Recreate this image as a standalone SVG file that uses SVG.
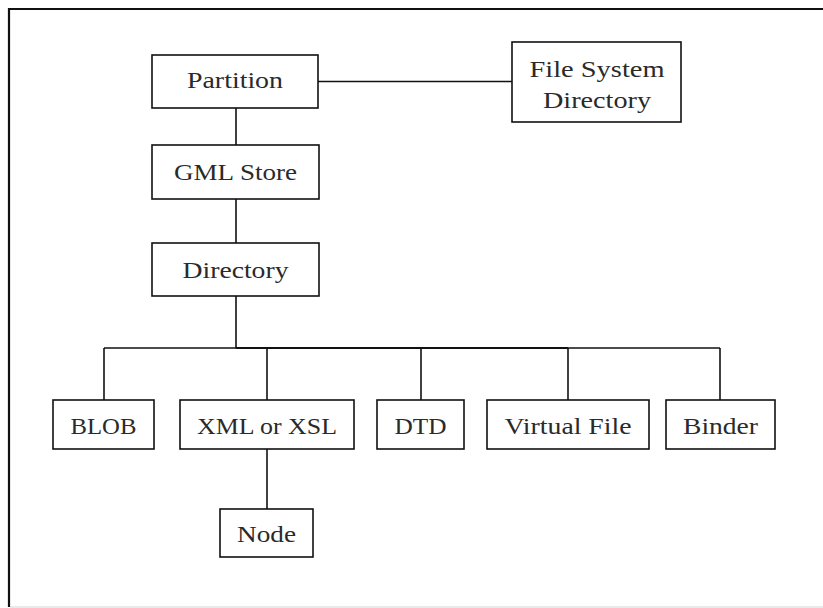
<svg xmlns="http://www.w3.org/2000/svg" width="823" height="608" viewBox="0 0 823 608">
<style>
.box{fill:#fff;stroke:#111;stroke-width:1.6}
.lbl{font-family:"Liberation Serif","DejaVu Serif",serif;font-size:23.5px;fill:#2a2a2a;text-anchor:middle}
.con{stroke:#111;stroke-width:1.6;fill:none}
</style>
<rect x="0" y="0" width="823" height="608" fill="#fff"/>
<g id="frame">
<path d="M9,607 V9 H823" fill="none" stroke="#111" stroke-width="2.2"/>
<line x1="10" y1="607" x2="823" y2="607" stroke="#d4d4d4" stroke-width="1.2"/>
</g>
<g id="connectors">
<line class="con" x1="318" y1="81.5" x2="512" y2="81.5"/>
<line class="con" x1="236" y1="108" x2="236" y2="145"/>
<line class="con" x1="236" y1="199" x2="236" y2="243"/>
<line class="con" x1="236" y1="296" x2="236" y2="348"/>
<line class="con" x1="104" y1="348" x2="720" y2="348"/>
<line x1="236" y1="348" x2="568" y2="348" stroke="#111" stroke-width="2.2"/>
<line class="con" x1="104" y1="348" x2="104" y2="400"/>
<line class="con" x1="267" y1="348" x2="267" y2="400"/>
<line class="con" x1="421" y1="348" x2="421" y2="400"/>
<line class="con" x1="568" y1="348" x2="568" y2="400"/>
<line class="con" x1="720" y1="348" x2="720" y2="400"/>
<line class="con" x1="267" y1="449" x2="267" y2="509"/>
</g>
<g id="partition">
<rect class="box" x="152" y="55" width="166" height="53"/>
<text class="lbl" x="235" y="87.5" textLength="96" lengthAdjust="spacingAndGlyphs">Partition</text>
</g>
<g id="fsd">
<rect class="box" x="512" y="42" width="169" height="80"/>
<text class="lbl" x="597" y="76.5" textLength="135" lengthAdjust="spacingAndGlyphs">File System</text>
<text class="lbl" x="597" y="107.5" textLength="108" lengthAdjust="spacingAndGlyphs">Directory</text>
</g>
<g id="gml">
<rect class="box" x="152" y="145" width="167" height="54"/>
<text class="lbl" x="235.5" y="179.5" textLength="123" lengthAdjust="spacingAndGlyphs">GML Store</text>
</g>
<g id="directory">
<rect class="box" x="152" y="243" width="167" height="53"/>
<text class="lbl" x="235.5" y="277.5" textLength="106" lengthAdjust="spacingAndGlyphs">Directory</text>
</g>
<g id="blob">
<rect class="box" x="53" y="400" width="101" height="49"/>
<text class="lbl" x="103.5" y="433.5" textLength="66" lengthAdjust="spacingAndGlyphs">BLOB</text>
</g>
<g id="xml">
<rect class="box" x="180" y="400" width="174" height="49"/>
<text class="lbl" x="267" y="433.5" textLength="140" lengthAdjust="spacingAndGlyphs">XML or XSL</text>
</g>
<g id="dtd">
<rect class="box" x="377" y="400" width="87" height="49"/>
<text class="lbl" x="420.5" y="433.5" textLength="52" lengthAdjust="spacingAndGlyphs">DTD</text>
</g>
<g id="virtual">
<rect class="box" x="487" y="400" width="162" height="49"/>
<text class="lbl" x="568" y="433.5" textLength="127" lengthAdjust="spacingAndGlyphs">Virtual File</text>
</g>
<g id="binder">
<rect class="box" x="666" y="400" width="109" height="49"/>
<text class="lbl" x="720.5" y="433.5" textLength="75" lengthAdjust="spacingAndGlyphs">Binder</text>
</g>
<g id="node">
<rect class="box" x="220" y="509" width="93" height="48"/>
<text class="lbl" x="266.5" y="542" textLength="59" lengthAdjust="spacingAndGlyphs">Node</text>
</g>
</svg>
